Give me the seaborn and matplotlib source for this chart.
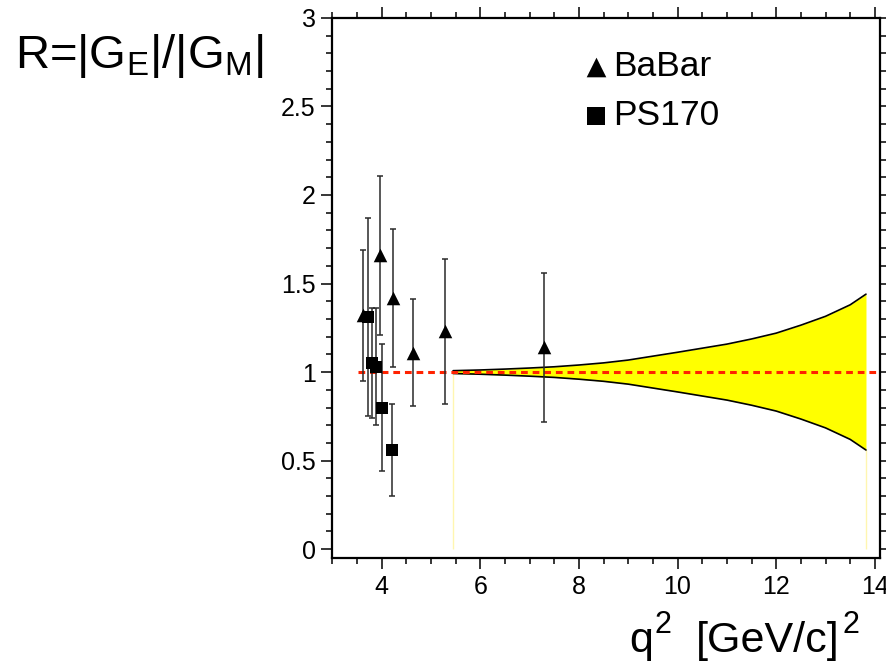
import numpy as np
import matplotlib
matplotlib.use("Agg")
import matplotlib.pyplot as plt
import seaborn as sns

# --- data ---
babar_q2 = [3.63, 3.97, 4.24, 4.63, 5.29, 7.29]
babar_r = [1.32, 1.66, 1.42, 1.11, 1.23, 1.14]
babar_err = [0.37, 0.45, 0.39, 0.30, 0.41, 0.42]

ps170_q2 = [3.73, 3.80, 3.89, 4.01, 4.21]
ps170_r = [1.31, 1.05, 1.03, 0.80, 0.56]
ps170_err = [0.56, 0.31, 0.33, 0.36, 0.26]

# predicted band (upper / lower edge)
band_q2 = [5.45, 6.0, 6.5, 7.0, 7.5, 8.0, 8.5, 9.0, 9.5, 10.0,
           10.5, 11.0, 11.5, 12.0, 12.5, 13.0, 13.5, 13.82]
band_hi = [1.008, 1.012, 1.017, 1.023, 1.030, 1.040, 1.052, 1.068, 1.090, 1.112,
           1.135, 1.158, 1.187, 1.220, 1.265, 1.315, 1.380, 1.440]
band_lo = [0.992, 0.988, 0.983, 0.977, 0.970, 0.960, 0.948, 0.932, 0.910, 0.888,
           0.865, 0.842, 0.813, 0.780, 0.735, 0.685, 0.620, 0.560]

ref_x = [3.53, 14.1]
ref_y = [1.0, 1.0]

sns.set_style("ticks")
plt.rcParams['font.family'] = ['Liberation Sans', 'DejaVu Sans']
plt.rcParams['mathtext.fontset'] = 'custom'
plt.rcParams['mathtext.rm'] = 'Liberation Sans'
plt.rcParams['text.color'] = 'black'
plt.rcParams['xtick.color'] = 'black'
plt.rcParams['ytick.color'] = 'black'
plt.rcParams['xtick.labelcolor'] = 'black'
plt.rcParams['ytick.labelcolor'] = 'black'

fig = plt.figure(figsize=(8.86, 6.62), dpi=100)
ax = fig.add_axes([0.375, 0.157, 0.618, 0.816])

# band
ax.vlines([band_q2[0], band_q2[-1]], 0, [band_lo[0], band_lo[-1]], color='#fff6b0', lw=1, zorder=1)
ax.fill_between(band_q2, band_lo, band_hi, color='#ffff00', lw=0, zorder=1)
sns.lineplot(x=band_q2, y=band_hi, color='black', lw=1.2, ax=ax, zorder=2)
sns.lineplot(x=band_q2, y=band_lo, color='black', lw=1.2, ax=ax, zorder=2)

# reference line R = 1
sns.lineplot(x=ref_x, y=ref_y, color='#ff2200', lw=2.2, ax=ax, zorder=3,
             linestyle=(0, (2.2, 1.6)))

# error bars
ax.errorbar(babar_q2, babar_r, yerr=babar_err, fmt='none', ecolor='#2a2a2a',
            elinewidth=1.1, capsize=2.3, capthick=1.1, zorder=4)
ax.errorbar(ps170_q2, ps170_r, yerr=ps170_err, fmt='none', ecolor='#2a2a2a',
            elinewidth=1.1, capsize=2.3, capthick=1.1, zorder=4)

# markers
sns.scatterplot(x=babar_q2, y=babar_r, marker='^', s=95, color='black',
                edgecolor='black', linewidth=0, ax=ax, label='BaBar', zorder=5)
sns.scatterplot(x=ps170_q2, y=ps170_r, marker='s', s=75, color='black',
                edgecolor='black', linewidth=0, ax=ax, label='PS170', zorder=5)

ax.set_xlim(3.0, 14.1)
ax.set_ylim(-0.05, 3.0)
ax.set_xticks([4, 6, 8, 10, 12, 14])
ax.set_xticks(np.arange(3.0, 14.01, 0.5), minor=True)
ax.set_yticks([0, 0.5, 1, 1.5, 2, 2.5, 3])
ax.set_yticklabels(['0', '0.5', '1', '1.5', '2', '2.5', '3'])
ax.set_yticks(np.arange(0, 3.001, 0.1), minor=True)
ax.tick_params(which='both', direction='out', top=True, right=True,
               labelsize=18, width=1.1, color='black', pad=4)
ax.tick_params(which='major', length=8)
ax.tick_params(which='minor', length=4)
for sp in ax.spines.values():
    sp.set_linewidth(1.6)
    sp.set_color('black')
ax.set_xlabel('')
ax.set_ylabel('')

leg = ax.legend(loc='upper left', bbox_to_anchor=(0.462, 0.94), frameon=False,
                fontsize=25.5, markerscale=1.45, handletextpad=0.2, labelspacing=0.45,
                handlelength=0.6, borderpad=0, borderaxespad=0)

fig.text(15 / 886, 1 - 68 / 662, r'R=|G$_\mathregular{E}$|/|G$_\mathregular{M}$|',
         fontsize=34, ha='left', va='baseline')

# x axis title, built ROOT-style from pieces
W, H = 886, 662
fig.text(629 / W, 1 - 652 / H, 'q', fontsize=31, ha='left', va='baseline')
fig.text(655 / W, 1 - 633 / H, '2', fontsize=22, ha='left', va='baseline')
fig.text(696 / W, 1 - 652 / H, '[GeV/c]', fontsize=31, ha='left', va='baseline')
fig.text(843 / W, 1 - 633 / H, '2', fontsize=22, ha='left', va='baseline')

fig.savefig('out.png', dpi=100)
